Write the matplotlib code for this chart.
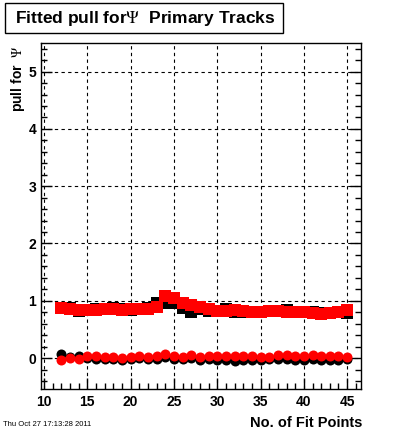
import matplotlib
matplotlib.use('Agg')
import matplotlib.pyplot as plt
from matplotlib.patches import Rectangle
from matplotlib.ticker import MultipleLocator

plt.rcParams['font.family'] = ['Liberation Sans', 'DejaVu Sans']
plt.rcParams['mathtext.fontset'] = 'stix'

# ==========================================
# DATOS
# ==========================================
fit_points = list(range(12, 46))

sigma_red = [0.88, 0.85, 0.84, 0.84, 0.84, 0.85, 0.85, 0.84, 0.85, 0.855,
             0.85, 0.90, 1.08, 1.05, 0.965, 0.92, 0.885, 0.855, 0.82, 0.83,
             0.84, 0.82, 0.80, 0.80, 0.83, 0.82, 0.81, 0.80, 0.80, 0.79,
             0.775, 0.78, 0.80, 0.84]
sigma_black = [0.87, 0.88, 0.82, 0.84, 0.85, 0.86, 0.87, 0.86, 0.84, 0.86,
               0.88, 0.97, 0.965, 0.965, 0.88, 0.80, 0.86, 0.82, 0.83, 0.86,
               0.80, 0.81, 0.81, 0.81, 0.82, 0.83, 0.84, 0.80, 0.81, 0.80,
               0.79, 0.79, 0.80, 0.79]

mean_red = [-0.04, 0.0, -0.01, 0.04, 0.03, 0.02, 0.01, 0.0, 0.01, 0.04,
            0.02, 0.035, 0.075, 0.04, 0.02, 0.05, 0.02, 0.04, 0.035, 0.03,
            0.03, 0.03, 0.03, 0.01, 0.02, 0.05, 0.06, 0.035, 0.035, 0.06,
            0.035, 0.04, 0.03, 0.01]
mean_black = [0.07, 0.02, 0.03, 0.0, -0.02, -0.01, -0.02, -0.03, -0.02, 0.0,
              -0.02, -0.02, 0.02, -0.01, -0.02, 0.0, -0.03, -0.01, -0.03, -0.04,
              -0.05, -0.03, -0.03, -0.04, -0.02, -0.02, -0.01, -0.03, -0.03, -0.02,
              -0.03, -0.03, -0.03, -0.01]

x_ticks = [10, 15, 20, 25, 30, 35, 40, 45]
y_ticks = [0, 1, 2, 3, 4, 5]

# ==========================================
# FIGURA
# ==========================================
W, H = 400, 433
fig = plt.figure(figsize=(W / 100, H / 100), dpi=100)
ax = fig.add_axes([41 / W, 1 - 389 / H, 320 / W, 346 / H])

ax.plot(fit_points, sigma_black, 's', color='black', markersize=8.2, markeredgewidth=0)
ax.plot(fit_points, sigma_red, 's', color='red', markersize=8.2, markeredgewidth=0)
ax.plot(fit_points, mean_black, 'o', color='black', markersize=7.2, markeredgewidth=0)
ax.plot(fit_points, mean_red, 'o', color='red', markersize=7.2, markeredgewidth=0)

ax.set_xlim(9.65, 46.6)
ax.set_ylim(-0.54, 5.5)
ax.set_xticks(x_ticks)
ax.set_yticks(y_ticks)
ax.xaxis.set_minor_locator(MultipleLocator(1))
ax.yaxis.set_minor_locator(MultipleLocator(0.2))
ax.tick_params(which='both', direction='in', right=True, top=False,
               labelsize=10)
ax.tick_params(which='major', length=8, width=1)
ax.tick_params(which='minor', length=4, width=1)
for lbl in ax.get_xticklabels() + ax.get_yticklabels():
    lbl.set_fontweight('bold')
ax.tick_params(axis='x', pad=4)
ax.grid(True, which='major', color='black', linestyle=(0, (3, 3)), linewidth=0.8)
for s in ax.spines.values():
    s.set_linewidth(1)

# Titulos
fig.patches.append(Rectangle((5 / W, 1 - 33 / H), 278 / W, 30 / H,
                             transform=fig.transFigure, fc='white', ec='black', lw=1))
fig.text(15 / W, 1 - 18 / H, r'Fitted pull for$\Psi$  Primary Tracks', fontsize=12.5,
         fontweight='bold', va='center', ha='left')
fig.text(18 / W, 1 - 45 / H, r'pull for  $\Psi$', rotation=90, fontsize=10,
         fontweight='bold', ha='center', va='top')
fig.text(362 / W, 1 - 423 / H, 'No. of Fit Points', fontsize=10.5, fontweight='bold',
         ha='right', va='center')
fig.text(3 / W, 1 - 425 / H, 'Thu Oct 27 17:13:28 2011', fontsize=5.5,
         ha='left', va='center')

fig.savefig('out.png', dpi=100, facecolor='white')
